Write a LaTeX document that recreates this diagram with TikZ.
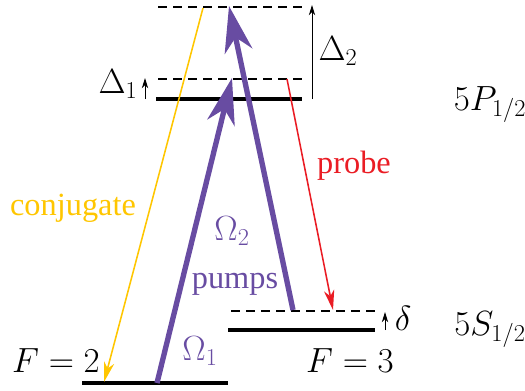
\documentclass[tikz,border=0pt]{standalone}
\usepackage{fontspec}
\setmainfont{Liberation Serif}
\usepackage{tikz}
\usetikzlibrary{arrows.meta, positioning}
\definecolor{pumpviolet}{RGB}{104,76,162}
\definecolor{conjyellow}{RGB}{255,198,0}
\definecolor{probered}{RGB}{234,28,36}

\begin{document}
\begin{tikzpicture}[x=0.025cm, y=-0.025cm,
  level/.style={line width=2.2pt},
  virtual/.style={line width=1.4pt, dash pattern=on 6.4pt off 4.3pt},
  pump/.style={pumpviolet, line width=3.8pt, -{Stealth[length=11.5mm, width=7mm, inset=3.5mm]}},
  beam/.style={line width=1.1pt, -{Stealth[length=5mm, width=2.6mm, inset=1.5mm]}},
  detune/.style={line width=0.7pt, -{Stealth[length=2.6mm, width=1.6mm]}},
  lbl/.style={font=\fontsize{23}{26}\selectfont, inner sep=0pt, anchor=base}]
\useasboundingbox (0,0) rectangle (525,390);

% levels
\coordinate (top l) at (158,7);   \coordinate (top r) at (302,7);
\coordinate (d1 l) at (158,79);   \coordinate (d1 r) at (302,79);
\coordinate (P l) at (156,99);    \coordinate (P r) at (302,99);
\coordinate (F2 l) at (82,383);   \coordinate (F2 r) at (228,383);
\coordinate (F3 l) at (228,330);  \coordinate (F3 r) at (375,330);
\coordinate (dl l) at (231,311);  \coordinate (dl r) at (375,311);

\draw[virtual] (top l) -- (top r);
\draw[virtual] (d1 l) -- (d1 r);
\draw[level] (P l) -- (P r);
\draw[level] (F2 l) -- (F2 r);
\draw[level] (F3 l) -- (F3 r);
\draw[virtual] (dl l) -- (dl r);

% detunings
\coordinate (D2 a) at (312,99);  \coordinate (D2 b) at (312,5);
\coordinate (D1 a) at (145,99);  \coordinate (D1 b) at (145,78);
\coordinate (dd a) at (385,330); \coordinate (dd b) at (385,312);
\draw[detune] (D2 a) -- (D2 b);
\draw[detune] (D1 a) -- (D1 b);
\draw[detune] (dd a) -- (dd b);

% beams
\coordinate (conj a) at (203,8);   \coordinate (conj b) at (104,382);
\coordinate (probe a) at (287,79); \coordinate (probe b) at (333,310);
\draw[beam, conjyellow] (conj a) -- (conj b);
\draw[beam, probered] (probe a) -- (probe b);

% pumps
\coordinate (om1 a) at (157,383); \coordinate (om1 b) at (232,78);
\coordinate (om2 a) at (293,310); \coordinate (om2 b) at (229,6);
\draw[pump] (om1 a) -- (om1 b);
\draw[pump] (om2 a) -- (om2 b);

% labels
\node[lbl] (D1) at (118,93) {$\Delta_1$};
\node[lbl] (D2) at (338,60) {$\Delta_2$};
\node[lbl] (del) at (403,330) {$\delta$};
\node[lbl] (P12) at (490,110) {$5P_{1/2}$};
\node[lbl] (S12) at (490,335) {$5S_{1/2}$};
\node[lbl] (F2) at (56,372) {$F=2$};
\node[lbl] (F3) at (350,372) {$F=3$};
\node[lbl, conjyellow] (conj) at (73,215) {conjugate};
\node[lbl, probered] (probe) at (354,173) {probe};
\node[lbl, pumpviolet] (pumps) at (235,288) {pumps};
\node[lbl, pumpviolet] (om2) at (232,240) {$\Omega_2$};
\node[lbl, pumpviolet] (om1) at (200,360) {$\Omega_1$};
\end{tikzpicture}
\end{document}
